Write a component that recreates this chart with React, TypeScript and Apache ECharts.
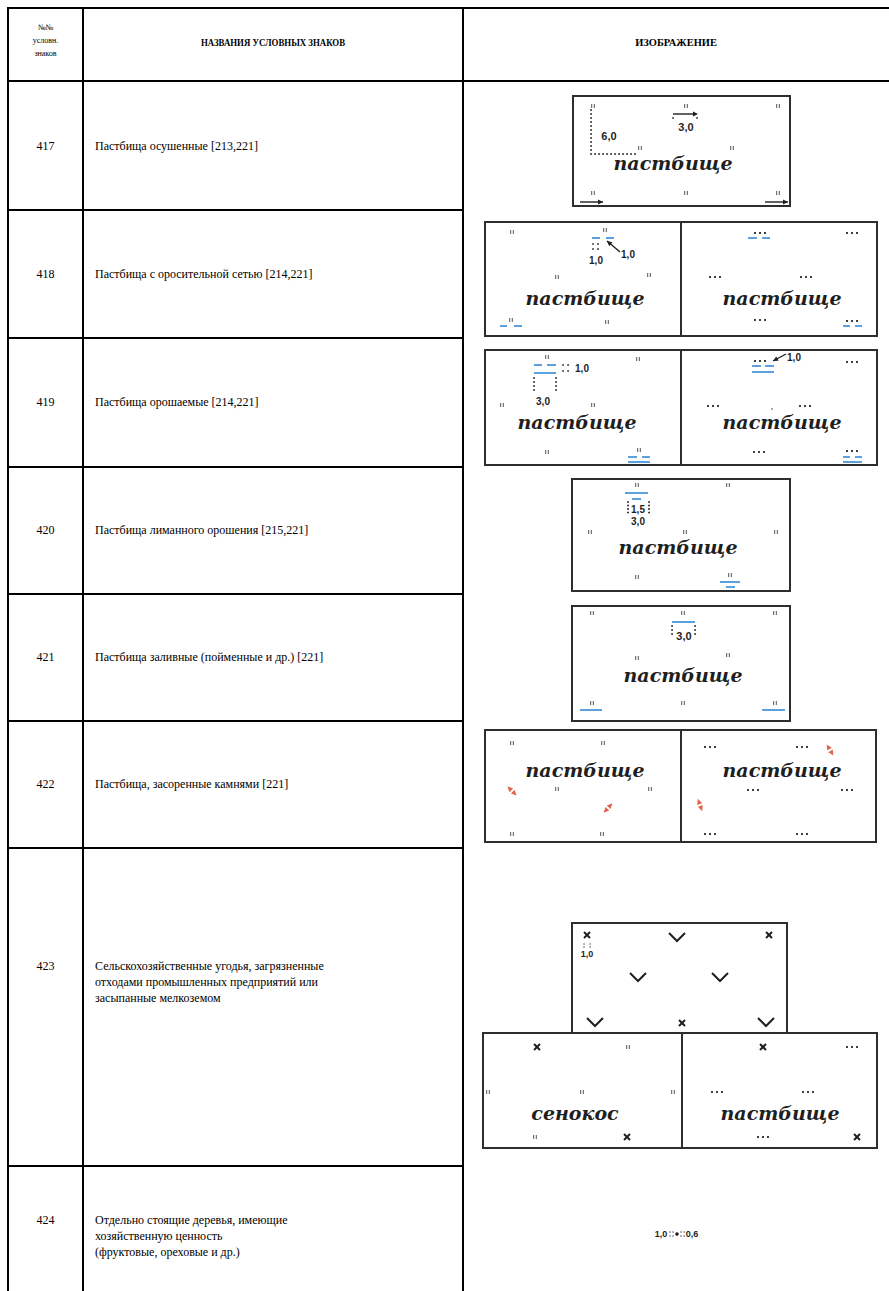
import React, { useEffect, useRef } from 'react';
import * as echarts from 'echarts';

// ---- table content ----
const HEADER_NO = ['№№', 'условн.', 'знаков'];
const HEADER_NAME = 'НАЗВАНИЯ УСЛОВНЫХ ЗНАКОВ';
const HEADER_IMG = 'ИЗОБРАЖЕНИЕ';
const CODES = ['417', '418', '419', '420', '421', '422', '423', '424'];
const NAMES = [
  ['Пастбища осушенные [213,221]'],
  ['Пастбища с оросительной сетью [214,221]'],
  ['Пастбища орошаемые [214,221]'],
  ['Пастбища лиманного орошения [215,221]'],
  ['Пастбища заливные (пойменные и др.) [221]'],
  ['Пастбища, засоренные камнями [221]'],
  ['Сельскохозяйственные угодья, загрязненные', 'отходами промышленных предприятий или', 'засыпанные мелкоземом'],
  ['Отдельно стоящие деревья, имеющие', 'хозяйственную ценность', '(фруктовые, ореховые и др.)'],
];
const PASTURE = 'пастбище';
const HAYFIELD = 'сенокос';
const DIM_60 = '6,0';
const DIM_30 = '3,0';
const DIM_10 = '1,0';
const DIM_15 = '1,5';
const DIM_06 = '0,6';

// ---- layout ----
const X_LEFT = 8, X_C1 = 83, X_C2 = 463, X_RIGHT = 889;
const Y_TOP = 8, Y_HEAD = 81;
const ROW_LINES = [210, 338, 467, 594, 721, 848, 1166];
const LABEL_Y = [146, 274, 402, 530, 657, 784, 966, 1220];

const INK = '#1f1f1f', TICK = '#555555', BLUE = '#3f8fd8', RED = '#e0654f', FRAME = '#2e2e2e';

function build() {
  const E: any[] = [];
  const L = (x1: number, y1: number, x2: number, y2: number, stroke = INK, lw = 1) =>
    E.push({ type: 'line', silent: true, shape: { x1, y1, x2, y2 }, style: { stroke, lineWidth: lw } });
  const T = (x: number, y: number, text: string, font: string, fill = INK, align = 'center', scaleX = 1) =>
    E.push({ type: 'text', silent: true, x, y, scaleX, style: { text, font, fill, align, verticalAlign: 'middle', textAlign: align, textVerticalAlign: 'middle' } });
  const box = (x: number, y: number, w: number, h: number) =>
    E.push({ type: 'rect', silent: true, shape: { x, y, width: w, height: h }, style: { fill: 'none', stroke: FRAME, lineWidth: 2 } });
  const tick = (x: number, y: number) => { L(x - 1.3, y - 2, x - 1.3, y + 2, TICK, 1); L(x + 1.3, y - 2, x + 1.3, y + 2, TICK, 1); };
  const dot = (x: number, y: number, r = 1.05, fill = INK) => E.push({ type: 'circle', silent: true, shape: { cx: x, cy: y, r }, style: { fill } });
  const dots3 = (x: number, y: number) => { dot(x - 5, y); dot(x, y); dot(x + 5, y); };
  const blue = (x1: number, x2: number, y: number) => L(x1, y, x2, y, BLUE, 1.7);
  const head = (tx: number, ty: number, fx: number, fy: number) => {
    const len = Math.hypot(tx - fx, ty - fy); const dx = (tx - fx) / len, dy = (ty - fy) / len;
    const bx = tx - dx * 5, by = ty - dy * 5;
    E.push({ type: 'polygon', silent: true, shape: { points: [[tx, ty], [bx - dy * 2.5, by + dx * 2.5], [bx + dy * 2.5, by - dx * 2.5]] }, style: { fill: INK } });
  };
  const arrow = (fx: number, fy: number, tx: number, ty: number) => { L(fx, fy, tx, ty, INK, 1.4); head(tx, ty, fx, fy); };
  const vee = (x: number, y: number) => E.push({ type: 'polyline', silent: true, shape: { points: [[x - 8, y - 4], [x, y + 4], [x + 8, y - 4]] }, style: { stroke: INK, lineWidth: 2, fill: 'none' } });
  const cross = (x: number, y: number) => { L(x - 3, y - 3, x + 3, y + 3, INK, 2); L(x - 3, y + 3, x + 3, y - 3, INK, 2); };
  const rock = (x: number, y: number, ddx: number, ddy: number) => {
    const n = Math.hypot(ddx, ddy); const dx = ddx / n, dy = ddy / n; const px = -dy, py = dx;
    for (const s of [-1, 1]) {
      const tx = x + s * dx * 6.5, ty = y + s * dy * 6.5; const bx = x + s * dx * 1, by = y + s * dy * 1;
      E.push({ type: 'polygon', silent: true, shape: { points: [[tx, ty], [bx + px * 2.6, by + py * 2.6], [bx - px * 2.6, by - py * 2.6]] }, style: { fill: RED } });
    }
  };
  const word = (x: number, y: number, t: string) => T(x, y, t, 'italic bold 19px "DejaVu Serif"', INK);
  const num = (x: number, y: number, t: string, size = 11) => T(x, y, t, `bold ${size}px "Liberation Sans"`, INK);
  const vdots = (x: number, y1: number, y2: number, step = 4) => { for (let y = y1; y <= y2; y += step) dot(x, y, 0.9); };
  const hdots = (x1: number, x2: number, y: number, step = 4) => { for (let x = x1; x <= x2; x += step) dot(x, y, 0.9); };

  // ---- table frame ----
  const tfont = '12px "Liberation Serif"';
  L(X_LEFT, Y_TOP, X_RIGHT, Y_TOP, '#000', 2);
  L(X_LEFT, Y_HEAD, X_RIGHT, Y_HEAD, '#000', 2);
  L(X_LEFT, Y_TOP - 1, X_LEFT, 1291, '#000', 2);
  L(X_C1, Y_TOP - 1, X_C1, 1291, '#000', 2);
  L(X_C2, Y_TOP - 1, X_C2, 1291, '#000', 2);
  ROW_LINES.forEach((y) => L(X_LEFT, y, X_C2, y, '#000', 2));

  HEADER_NO.forEach((t, i) => T((X_LEFT + X_C1) / 2, 27 + i * 13, t, '8px "Liberation Serif"', '#000'));
  T((X_C1 + X_C2) / 2, 42, HEADER_NAME, 'bold 11px "Liberation Serif"', '#000', 'center', 0.8);
  T((X_C2 + X_RIGHT) / 2, 42, HEADER_IMG, 'bold 11px "Liberation Serif"', '#000', 'center', 0.95);

  CODES.forEach((c, i) => {
    T((X_LEFT + X_C1) / 2, LABEL_Y[i], c, tfont, '#000');
    NAMES[i].forEach((line, j) => T(95, LABEL_Y[i] + j * 16, line, tfont, '#000', 'left'));
  });

  // ---- 417 ----
  box(573, 96, 217, 110);
  [[593, 106], [686, 106], [778, 106], [640, 148], [732, 148], [593, 193], [686, 193], [778, 193]].forEach(([x, y]) => tick(x, y));
  vdots(591, 110, 154); hdots(595, 635, 154);
  num(609, 136, DIM_60);
  L(673, 114, 693, 114, INK, 1.4); head(698, 114, 673, 114); dot(673, 118, 0.8); dot(697, 118, 0.8);
  num(686, 127, DIM_30);
  word(673, 163, PASTURE);
  arrow(580, 202, 603, 202); arrow(765, 202, 788, 202);

  // ---- 418 ----
  box(485, 222, 196, 114); box(681, 222, 196, 114);
  tick(512, 232); tick(605, 230);
  blue(592, 600, 238); blue(606, 614, 238);
  dot(593, 244, 0.8); dot(598, 244, 0.8); dot(593, 249, 0.8); dot(598, 249, 0.8);
  num(596, 260, DIM_10, 10);
  arrow(620, 252, 607, 241); num(628, 254, DIM_10, 10);
  tick(557, 277); tick(649, 275);
  word(585, 298, PASTURE);
  tick(511, 320); blue(500, 507, 326); blue(514, 522, 326);
  tick(607, 322);
  dots3(760, 233); blue(748, 757, 238); blue(762, 770, 238);
  dots3(852, 233);
  dots3(715, 277); dots3(806, 277);
  word(782, 298, PASTURE);
  dots3(760, 320);
  dots3(852, 321); blue(843, 850, 326); blue(855, 862, 326);

  // ---- 419 ----
  box(485, 350, 196, 115); box(681, 350, 196, 115);
  tick(547, 357);
  blue(534, 542, 365); blue(547, 556, 365); blue(534, 556, 373);
  dot(563, 365, 0.8); dot(568, 365, 0.8); dot(563, 371, 0.8); dot(568, 371, 0.8);
  num(582, 368, DIM_10, 10);
  vdots(534, 378, 393); vdots(556, 378, 393);
  num(543, 401, DIM_30, 10);
  tick(502, 405); tick(593, 405); tick(638, 359);
  word(577, 422, PASTURE);
  tick(547, 452);
  tick(639, 450); blue(628, 637, 457); blue(642, 650, 457); blue(628, 650, 462);
  dots3(760, 361); blue(752, 761, 366); blue(765, 774, 366); blue(752, 774, 372);
  arrow(786, 354, 773, 361); num(794, 357, DIM_10, 10);
  dots3(852, 362);
  dots3(713, 406); dots3(805, 406); dot(772, 409, 0.7);
  word(782, 422, PASTURE);
  dots3(759, 452);
  dots3(852, 451); blue(843, 850, 457); blue(855, 862, 457); blue(843, 862, 462);

  // ---- 420 ----
  box(572, 479, 218, 112);
  tick(637, 485); blue(625, 648, 493); blue(632, 641, 499);
  vdots(628, 502, 515, 3.5); vdots(649, 502, 515, 3.5);
  num(638, 509, DIM_15, 10); num(638, 521, DIM_30, 10);
  tick(728, 485);
  tick(590, 532); tick(685, 532); tick(776, 532);
  word(678, 547, PASTURE);
  tick(637, 577);
  tick(730, 575); blue(720, 740, 582); blue(726, 735, 587);

  // ---- 421 ----
  box(572, 606, 218, 115);
  tick(592, 613); tick(683, 613); tick(775, 613);
  blue(672, 695, 622); vdots(672, 626, 634); vdots(695, 626, 634);
  num(684, 636, DIM_30, 11);
  tick(637, 658); tick(728, 655);
  word(683, 675, PASTURE);
  tick(592, 703); tick(683, 703); tick(775, 703);
  blue(580, 602, 710); blue(762, 785, 710);

  // ---- 422 ----
  box(485, 730, 196, 112); box(681, 730, 195, 112);
  tick(512, 743); tick(603, 743);
  word(585, 770, PASTURE);
  tick(557, 789); tick(650, 789);
  rock(512, 791, 1, 1); rock(608, 808, 1, -1.1);
  tick(512, 834); tick(602, 834);
  dots3(710, 747); dots3(802, 747);
  rock(830, 750, 0.6, 1);
  word(782, 770, PASTURE);
  dots3(753, 790); dots3(847, 790);
  rock(700, 805, 0.35, 1);
  dots3(710, 834); dots3(802, 834);

  // ---- 423 ----
  box(572, 923, 215, 110);
  cross(587, 935); dot(584, 944, 0.6); dot(590, 944, 0.6); dot(584, 947, 0.6); dot(590, 947, 0.6);
  num(587, 954, DIM_10, 9);
  vee(677, 937); cross(769, 935);
  vee(638, 977); vee(720, 977);
  vee(595, 1022); cross(682, 1023); vee(766, 1022);
  box(483, 1033, 199, 115); box(682, 1033, 195, 115);
  cross(537, 1047); tick(628, 1047);
  tick(488, 1092); tick(582, 1092); tick(673, 1092);
  word(575, 1113, HAYFIELD);
  tick(535, 1137); cross(627, 1137);
  cross(763, 1047); dots3(852, 1047);
  dots3(717, 1092); dots3(808, 1092);
  word(780, 1113, PASTURE);
  dots3(763, 1137); cross(857, 1137);

  // ---- 424 ----
  const y424 = LABEL_Y[7] + 14;
  num(661, y424, DIM_10, 9);
  dot(670, y424 - 2, 0.6); dot(670, y424 + 2, 0.6); dot(673, y424 - 2, 0.6); dot(673, y424 + 2, 0.6);
  dot(677, y424, 1.8);
  dot(681, y424 - 2, 0.6); dot(681, y424 + 2, 0.6); dot(684, y424 - 2, 0.6); dot(684, y424 + 2, 0.6);
  num(692, y424, DIM_06, 9);

  return E;
}

export default function App() {
  const ref = useRef<HTMLDivElement>(null);
  useEffect(() => {
    if (!ref.current) return;
    const chart = echarts.init(ref.current, undefined, { renderer: 'svg' });
    chart.setOption({
      animation: false,
      backgroundColor: '#ffffff',
      graphic: { elements: build() },
    });
    return () => chart.dispose();
  }, []);
  return <div ref={ref} style={{ position: 'absolute', left: 0, top: 0, width: 889, height: 1291 }} />;
}
